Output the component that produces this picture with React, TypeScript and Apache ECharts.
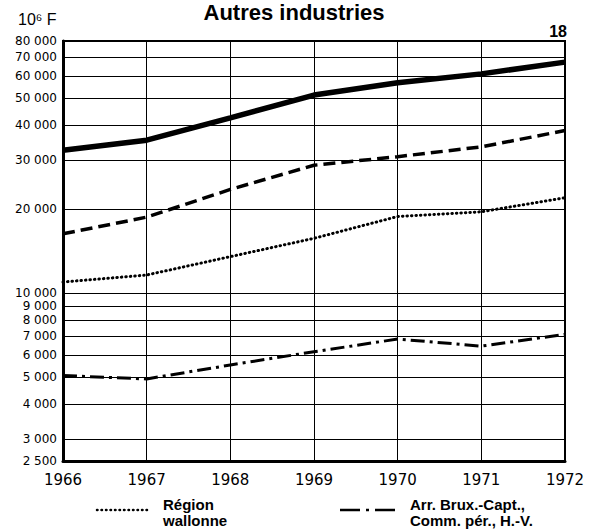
import React, { useEffect, useRef } from "react";
import * as echarts from "echarts";

const years = [1966, 1967, 1968, 1969, 1970, 1971, 1972];
const royaume = [32500, 35300, 42400, 51200, 56700, 61000, 67200];
const flamande = [16300, 18700, 23500, 28700, 30800, 33400, 38200];
const wallonne = [10950, 11600, 13500, 15700, 18800, 19550, 21950];
const bruxelles = [5060, 4920, 5520, 6160, 6840, 6450, 7110];
const yTicks = [2500, 3000, 4000, 5000, 6000, 7000, 8000, 9000, 10000, 20000, 30000, 40000, 50000, 60000, 70000, 80000];

const FONT = "'Liberation Sans', Arial, sans-serif";
const NUMFONT = "'DejaVu Sans', sans-serif";

function fmt(v: number): string {
  const s = String(v);
  if (s.length <= 3) return s;
  return s.slice(0, s.length - 3) + " " + s.slice(s.length - 3);
}

function pairs(vals: number[]) {
  return years.map((y, i) => [y, vals[i]]);
}

export default function App() {
  const ref = useRef<HTMLDivElement>(null);
  useEffect(() => {
    if (!ref.current) return;
    const chart = echarts.init(ref.current, null, { renderer: "svg" });
    const option: any = {
      animation: false,
      backgroundColor: "#fff",
      grid: {
        left: 63,
        right: 30,
        top: 41,
        bottom: 68,
        show: true,
        borderColor: "#000",
        borderWidth: 2,
        backgroundColor: "transparent",
      },
      xAxis: {
        type: "value",
        min: 1966,
        max: 1972,
        interval: 1,
        axisLine: { show: true, lineStyle: { color: "#000", width: 3 } },
        axisTick: { show: false },
        axisLabel: {
          color: "#000",
          fontSize: 15,
          fontFamily: NUMFONT,
          margin: 11,
          formatter: (v: number) => String(v),
        },
        splitLine: { show: true, lineStyle: { color: "#000", width: 1 } },
      },
      yAxis: {
        type: "log",
        logBase: 10,
        min: 2500,
        max: 80000,
        axisLine: { show: true, lineStyle: { color: "#000", width: 3 } },
        axisTick: { show: false },
        axisLabel: { show: false },
        splitLine: { show: false },
      },
      series: [
        {
          name: "grille",
          type: "line",
          data: [],
          silent: true,
          markLine: {
            silent: true,
            symbol: ["none", "none"],
            lineStyle: { color: "#000", width: 1, type: "solid" },
            label: {
              position: "start",
              distance: 6,
              color: "#000",
              fontSize: 12,
              fontFamily: NUMFONT,
              formatter: (p: any) => fmt(p.value),
            },
            emphasis: { disabled: true },
            data: yTicks.map((t) => ({ yAxis: t })),
          },
        },
        {
          name: "Royaume",
          type: "line",
          data: pairs(royaume),
          showSymbol: false,
          lineStyle: { color: "#000", width: 5.5, type: "solid" },
        },
        {
          name: "Région flamande",
          type: "line",
          data: pairs(flamande),
          showSymbol: false,
          lineStyle: { color: "#000", width: 3.5, type: [12, 6] },
        },
        {
          name: "Région wallonne",
          type: "line",
          data: pairs(wallonne),
          showSymbol: false,
          lineStyle: { color: "#000", width: 3, type: [0.5, 4], cap: "round" },
        },
        {
          name: "Arr. Brux.-Capt., Comm. pér., H.-V.",
          type: "line",
          data: pairs(bruxelles),
          showSymbol: false,
          lineStyle: { color: "#000", width: 3, type: [14, 5, 3, 5] },
        },
      ],
      graphic: [
        {
          type: "text",
          x: 294,
          y: 12,
          style: {
            text: "Autres industries",
            font: "bold 22px " + FONT,
            fill: "#000",
            align: "center",
            verticalAlign: "middle",
          },
        },
        {
          type: "text",
          x: 18,
          y: 19,
          style: {
            text: "10⁶ F",
            font: "16px " + FONT,
            fill: "#000",
            align: "left",
            verticalAlign: "middle",
          },
        },
        {
          type: "text",
          x: 567,
          y: 31,
          style: {
            text: "18",
            font: "bold 16px " + FONT,
            fill: "#000",
            align: "right",
            verticalAlign: "middle",
          },
        },
        {
          type: "line",
          shape: { x1: 97, y1: 510, x2: 147, y2: 510 },
          style: { stroke: "#000", lineWidth: 2.5, lineDash: [0.5, 4], lineCap: "round" },
        },
        {
          type: "text",
          x: 163,
          y: 512,
          style: {
            text: "Région\nwallonne",
            font: "bold 15px " + FONT,
            lineHeight: 16,
            fill: "#000",
            align: "left",
            verticalAlign: "middle",
          },
        },
        {
          type: "line",
          shape: { x1: 340, y1: 510, x2: 399, y2: 510 },
          style: { stroke: "#000", lineWidth: 2.5, lineDash: [20, 6, 3, 6] },
        },
        {
          type: "text",
          x: 410,
          y: 512,
          style: {
            text: "Arr. Brux.-Capt.,\nComm. pér., H.-V.",
            font: "bold 15px " + FONT,
            lineHeight: 16,
            fill: "#000",
            align: "left",
            verticalAlign: "middle",
          },
        },
      ],
    };
    chart.setOption(option);
    return () => chart.dispose();
  }, []);
  return (
    <div
      ref={ref}
      style={{ position: "absolute", left: 0, top: 0, width: 595, height: 529 }}
    />
  );
}
